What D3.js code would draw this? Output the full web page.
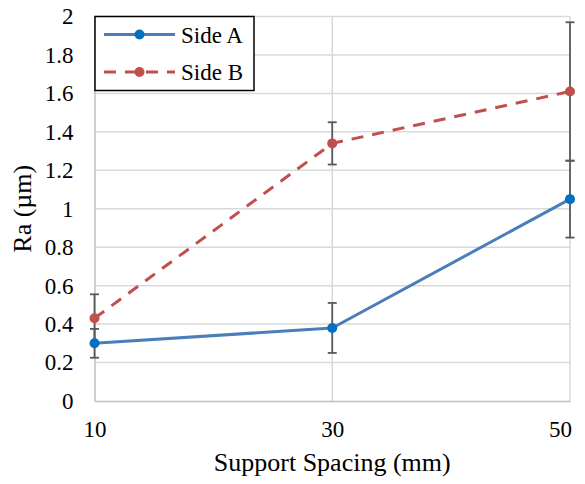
<!DOCTYPE html>
<html>
<head>
<meta charset="utf-8">
<script src="https://cdn.jsdelivr.net/npm/d3@7"></script>
<style>
  html, body { margin: 0; padding: 0; background: #fff; }
  svg { display: block; }
  svg text { font-family: "Times New Roman", "Liberation Serif", "DejaVu Serif", serif; }
</style>
</head>
<body>
<svg id="chart" width="585" height="484"></svg>
<script>
// Support spacing (mm)
const spacing = [10, 30, 50];
// Mean roughness Ra (µm) and error bar half-widths
const sideA = [0.30, 0.38, 1.05];
const sideAErr = [0.075, 0.13, 0.20];
const sideB = [0.43, 1.34, 1.61];
const sideBErr = [0.125, 0.11, 0.36];
const yTicks = [0, 0.2, 0.4, 0.6, 0.8, 1, 1.2, 1.4, 1.6, 1.8, 2];
const seriesNames = ["Side A", "Side B"];

const svg = d3.select("#chart");
const margin = { top: 16.5, right: 15, bottom: 83, left: 94.5 };
const W = 585, H = 484;
const iw = W - margin.left - margin.right;
const ih = H - margin.top - margin.bottom;

const x = d3.scaleLinear().domain([10, 50]).range([0, iw]);
const y = d3.scaleLinear().domain([0, 2]).range([ih, 0]);

const g = svg.append("g").attr("transform", `translate(${margin.left},${margin.top})`);

// gridlines
g.append("g")
  .selectAll("line.h").data(yTicks.filter(d => d > 0)).join("line")
  .attr("x1", 0).attr("x2", iw)
  .attr("y1", d => y(d)).attr("y2", d => y(d))
  .attr("stroke", "#d9d9d9").attr("stroke-width", 1.5);
g.append("g")
  .selectAll("line.v").data(spacing.slice(1)).join("line")
  .attr("x1", d => x(d)).attr("x2", d => x(d))
  .attr("y1", 0).attr("y2", ih)
  .attr("stroke", "#d9d9d9").attr("stroke-width", 1.5);

// axes
const yAxis = g.append("g")
  .call(d3.axisLeft(y).tickValues(yTicks).tickSize(0).tickPadding(21).tickFormat(d3.format("~g")));
yAxis.attr("font-family", null);
yAxis.select(".domain").attr("stroke", "#bfbfbf").attr("stroke-width", 1.5);
yAxis.selectAll("text").attr("font-size", 23).attr("fill", "#000");

const xAxis = g.append("g").attr("transform", `translate(0,${ih})`)
  .call(d3.axisBottom(x).tickValues(spacing).tickSize(0).tickPadding(20).tickFormat(d3.format("d")));
xAxis.attr("font-family", null);
xAxis.select(".domain").attr("stroke", "#bfbfbf").attr("stroke-width", 1.5);
xAxis.selectAll("text").attr("font-size", 23).attr("fill", "#000")
  .attr("dx", (d, i) => i === spacing.length - 1 ? -10 : 0);

// axis titles
svg.append("text")
  .attr("x", margin.left + iw / 2).attr("y", 470.5)
  .attr("text-anchor", "middle").attr("font-size", 26).text("Support Spacing (mm)");
svg.append("text")
  .attr("transform", `translate(30.5,${margin.top + ih / 2}) rotate(-90)`)
  .attr("text-anchor", "middle").attr("font-size", 26).text("Ra (µm)");

const series = [
  { name: seriesNames[0], vals: sideA, err: sideAErr, line: "#4a7ebb", mark: "#0070c0", dash: null },
  { name: seriesNames[1], vals: sideB, err: sideBErr, line: "#c0504d", mark: "#c0504d", dash: "12,9" }
];

const lineGen = d3.line().x(d => x(d[0])).y(d => y(d[1]));

series.forEach(s => {
  const pts = spacing.map((v, i) => [v, s.vals[i], s.err[i]]);
  g.append("path").datum(pts)
    .attr("d", lineGen).attr("fill", "none")
    .attr("stroke", s.line).attr("stroke-width", 3)
    .attr("stroke-dasharray", s.dash)
    .attr("stroke-linejoin", "round");
  s.pts = pts;
});

// error bars
series.forEach(s => {
  const eb = g.append("g").attr("stroke", "#595959").attr("stroke-width", 1.8);
  s.pts.forEach(p => {
    const cx = x(p[0]), hi = y(p[1] + p[2]), lo = y(p[1] - p[2]);
    eb.append("line").attr("x1", cx).attr("x2", cx).attr("y1", hi).attr("y2", lo);
    eb.append("line").attr("x1", cx - 4.5).attr("x2", cx + 4.5).attr("y1", hi).attr("y2", hi);
    eb.append("line").attr("x1", cx - 4.5).attr("x2", cx + 4.5).attr("y1", lo).attr("y2", lo);
  });
});

// markers
series.forEach(s => {
  g.append("g").selectAll("circle").data(s.pts).join("circle")
    .attr("cx", d => x(d[0])).attr("cy", d => y(d[1])).attr("r", 5)
    .attr("fill", s.mark);
});

// legend
const lg = svg.append("g").attr("transform", "translate(95,16.5)");
lg.append("rect").attr("width", 159).attr("height", 74)
  .attr("fill", "#fff").attr("stroke", "#000").attr("stroke-width", 1.5);
series.forEach((s, i) => {
  const ly = 18 + i * 37.5;
  lg.append("line").attr("x1", 9).attr("x2", 80).attr("y1", ly).attr("y2", ly)
    .attr("stroke", s.line).attr("stroke-width", 3).attr("stroke-dasharray", s.dash);
  lg.append("circle").attr("cx", 44.5).attr("cy", ly).attr("r", 5).attr("fill", s.mark);
  lg.append("text").attr("x", 86).attr("y", ly).attr("dy", "0.35em")
    .attr("font-size", 23).text(s.name);
});
</script>
</body>
</html>
